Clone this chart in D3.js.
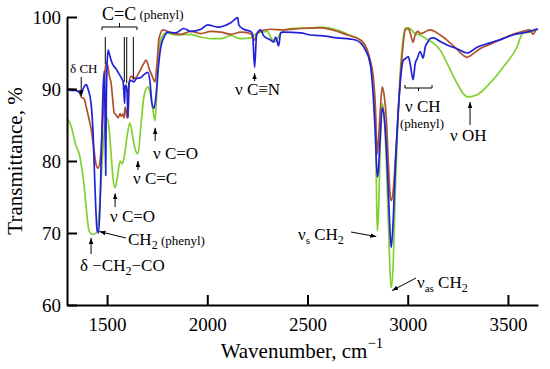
<!DOCTYPE html>
<html>
<head>
<meta charset="utf-8">
<script src="https://cdn.jsdelivr.net/npm/d3@7"></script>
<style>
    body { margin: 0; background: #fff; }
    svg, svg text { font-family: "Liberation Serif", "Times New Roman", serif; }
    .line { fill: none; stroke-width: 1.7; stroke-linejoin: round; }
    .ann line, .ann path.br { stroke: #000; stroke-width: 1; fill: none; }
</style>
</head>
<body>
<div id="chart"></div>
<script>

var xTicks = [1500, 2000, 2500, 3000, 3500];
var yTicks = [60, 70, 80, 90, 100];

// [wavenumber, transmittance %]
var redSeries = [
    [1300, 90.0], [1321, 90.0], [1346, 89.8], [1361, 89.6], [1371, 88.9], [1386, 88.6],
    [1396, 87.5], [1410, 85.8], [1420, 84.5], [1435, 81.5], [1445, 79.5], [1455, 79.0],
    [1465, 80.0], [1475, 83.5], [1485, 89.5], [1490, 92.5], [1495, 93.6], [1505, 93.0],
    [1510, 92.0], [1520, 90.8], [1530, 88.0], [1535, 86.7], [1545, 86.4], [1555, 86.0],
    [1565, 86.6], [1570, 86.2], [1580, 86.5], [1585, 86.0], [1590, 87.5], [1595, 87.0],
    [1600, 86.0], [1604, 86.2], [1609, 90.5], [1619, 91.8], [1634, 91.5], [1644, 91.6],
    [1669, 92.8], [1684, 93.6], [1694, 94.0], [1704, 93.4], [1709, 92.9], [1719, 92.2],
    [1729, 91.5], [1739, 91.0], [1749, 93.5], [1759, 97.0], [1779, 98.2], [1818, 97.8],
    [1868, 97.6], [1918, 98.0], [1968, 97.7], [2017, 98.0], [2067, 97.9], [2117, 97.6],
    [2167, 97.9], [2216, 97.7], [2236, 96.8], [2251, 97.9], [2316, 98.3], [2381, 98.2],
    [2465, 98.4], [2565, 98.5], [2649, 98.0], [2699, 97.5], [2764, 96.8], [2798, 95.4],
    [2813, 94.0], [2828, 91.7], [2838, 88.0], [2848, 81.0], [2853, 82.5], [2863, 87.0],
    [2873, 90.3], [2883, 89.0], [2893, 86.0], [2903, 80.0], [2913, 75.0], [2918, 74.5],
    [2928, 76.0], [2938, 80.0], [2953, 87.0], [2963, 91.5], [2973, 95.0], [2988, 98.2],
    [3003, 98.4], [3012, 97.8], [3027, 96.5], [3037, 97.5], [3052, 98.0], [3062, 97.7],
    [3077, 97.8], [3097, 98.1], [3112, 98.2], [3162, 97.5], [3196, 96.8], [3246, 95.5],
    [3276, 94.7], [3296, 94.4], [3311, 94.6], [3361, 95.6], [3410, 96.2], [3475, 97.0],
    [3525, 97.6], [3575, 98.0], [3610, 98.2], [3625, 97.6], [3644, 98.3], [3650, 98.3]
];

var blueSeries = [
    [1300, 90.0], [1321, 89.8], [1346, 89.8], [1361, 89.5], [1371, 89.3], [1380, 90.0],
    [1396, 90.6], [1405, 90.0], [1420, 88.0], [1430, 84.0], [1440, 76.0], [1450, 70.5],
    [1458, 70.0], [1465, 74.0], [1472, 82.0], [1480, 90.0], [1486, 92.5], [1490, 86.0],
    [1493, 78.0], [1496, 88.0], [1500, 93.5], [1505, 95.4], [1510, 95.0], [1520, 94.0],
    [1530, 93.3], [1545, 92.8], [1555, 92.3], [1570, 91.6], [1580, 91.0], [1585, 89.0],
    [1588, 88.0], [1590, 90.5], [1595, 90.5], [1600, 89.5], [1604, 86.0], [1609, 90.8],
    [1619, 91.2], [1634, 91.0], [1644, 91.4], [1669, 91.6], [1684, 92.0], [1704, 92.3],
    [1714, 91.0], [1724, 88.0], [1734, 87.3], [1744, 89.0], [1754, 92.5], [1769, 96.0],
    [1784, 97.2], [1803, 97.9], [1843, 97.8], [1883, 98.4], [1918, 98.0], [1968, 98.3],
    [2002, 98.9], [2052, 98.6], [2117, 99.2], [2152, 99.9], [2157, 98.9], [2182, 98.3],
    [2216, 98.0], [2226, 97.6], [2236, 93.0], [2246, 97.5], [2266, 98.2], [2281, 97.4],
    [2316, 96.8], [2331, 96.5], [2341, 97.2], [2356, 96.0], [2366, 97.8], [2381, 97.9],
    [2465, 97.8], [2515, 97.5], [2565, 97.4], [2649, 97.1], [2739, 96.8], [2789, 95.4],
    [2813, 93.5], [2828, 89.0], [2838, 84.0], [2848, 77.8], [2853, 78.5], [2863, 83.5],
    [2873, 87.4], [2883, 86.0], [2893, 82.0], [2903, 76.0], [2913, 69.5], [2918, 68.0],
    [2928, 72.0], [2938, 79.0], [2953, 87.0], [2963, 91.0], [2978, 94.0], [2988, 94.2],
    [3003, 94.5], [3012, 93.5], [3027, 91.3], [3037, 93.5], [3047, 94.2], [3062, 95.2],
    [3077, 94.3], [3087, 95.8], [3102, 96.6], [3112, 97.0], [3127, 97.1], [3162, 96.6],
    [3196, 96.1], [3246, 95.6], [3296, 95.0], [3346, 95.8], [3410, 96.4], [3475, 97.0],
    [3525, 97.5], [3575, 97.8], [3610, 98.0], [3644, 98.3], [3650, 98.3]
];

var greenSeries = [
    [1300, 86.0], [1321, 84.8], [1346, 82.0], [1361, 81.0], [1371, 79.5], [1386, 76.5],
    [1396, 73.5], [1410, 70.3], [1430, 69.8], [1445, 70.0], [1460, 72.8], [1470, 77.0],
    [1480, 82.0], [1490, 85.0], [1500, 86.0], [1510, 84.5], [1520, 81.0], [1530, 77.5],
    [1540, 76.3], [1550, 77.5], [1565, 80.0], [1575, 79.6], [1585, 80.5], [1600, 83.5],
    [1614, 85.3], [1630, 83.0], [1644, 81.3], [1654, 81.0], [1669, 85.0], [1684, 89.0],
    [1704, 90.3], [1714, 89.5], [1729, 87.0], [1739, 85.6], [1749, 90.0], [1759, 95.0],
    [1769, 97.0], [1794, 97.8], [1843, 97.5], [1918, 97.6], [1968, 97.2], [2017, 97.0],
    [2067, 97.0], [2117, 97.4], [2167, 97.0], [2216, 97.1], [2246, 97.7], [2300, 98.0],
    [2316, 97.2], [2341, 96.6], [2366, 97.8], [2415, 98.4], [2515, 98.5], [2565, 98.6],
    [2649, 98.2], [2699, 97.6], [2764, 96.8], [2798, 95.4], [2813, 93.5], [2828, 90.5],
    [2838, 86.0], [2843, 78.0], [2848, 70.3], [2853, 72.0], [2863, 82.0], [2873, 88.0],
    [2883, 86.0], [2893, 80.0], [2903, 72.0], [2913, 64.0], [2918, 62.4], [2928, 66.0],
    [2938, 76.0], [2953, 87.0], [2963, 92.5], [2973, 96.0], [2988, 98.5], [3003, 98.5],
    [3037, 97.7], [3062, 97.5], [3102, 96.8], [3127, 96.4], [3162, 95.4], [3196, 93.6],
    [3246, 90.8], [3276, 89.4], [3301, 88.9], [3346, 89.2], [3410, 90.8], [3475, 93.0],
    [3545, 95.8], [3575, 97.8], [3610, 97.9], [3650, 98.3]
];

var W = 550, H = 369;
var margin = {top: 17, right: 12, bottom: 64, left: 67}
    , width = W - margin.left - margin.right
    , height = H - margin.top - margin.bottom;

var FONT = "Liberation Serif, Times New Roman, serif";

var svg = d3.select("#chart")
    .append("svg")
    .attr("width", W)
    .attr("height", H)
    .attr("font-family", FONT);

var g = svg.append("g")
    .attr("transform", "translate(" + margin.left + "," + margin.top + ")");

var x = d3.scaleLinear().domain([1300, 3650]).range([0, width]);
var y = d3.scaleLinear().domain([60, 100]).range([height, 0]);

// page coords of a data point, for the annotations
function X(wn) { return margin.left + x(wn); }
function Y(t) { return margin.top + y(t); }

var line_gen = d3.line()
    .x(d => x(d[0]))
    .y(d => y(d[1]))
    .curve(d3.curveMonotoneX);

[[greenSeries, "#7fd12e"], [redSeries, "#b0512d"], [blueSeries, "#2121dc"]].forEach(function(s) {
    g.append("path")
        .attr("class", "line")
        .attr("stroke", s[1])
        .attr("d", line_gen(s[0]));
});

var xAxis = d3.axisBottom(x)
    .tickValues(xTicks)
    .tickFormat(d3.format("d"))
    .tickSizeInner(-10)
    .tickSizeOuter(0)
    .tickPadding(13);

var yAxis = d3.axisLeft(y)
    .tickValues(yTicks)
    .tickFormat(d3.format("d"))
    .tickSizeInner(-10)
    .tickSizeOuter(0)
    .tickPadding(6);

var gx = g.append("g")
    .attr("transform", "translate(0," + height + ")")
    .call(xAxis);

var gy = g.append("g").call(yAxis);

[gx, gy].forEach(function(a) {
    a.attr("font-family", FONT).attr("font-size", null);
    a.select(".domain").attr("stroke-width", 2);
    a.selectAll(".tick line").attr("stroke-width", 2);
    a.selectAll(".tick text").style("font-size", "19px").attr("fill", "#000");
});

// axis titles
svg.append("text")
    .attr("transform", "translate(22," + (margin.top + height / 2) + ") rotate(-90)")
    .attr("text-anchor", "middle")
    .style("font-size", "21px")
    .text("Transmittance, %");

var xt = svg.append("text")
    .attr("x", 302)
    .attr("y", 358)
    .attr("text-anchor", "middle")
    .style("font-size", "21px");
xt.append("tspan").text("Wavenumber, cm");
xt.append("tspan").attr("dy", -10).style("font-size", "15px").text("\u22121");

// annotations
var defs = svg.append("defs");
defs.append("marker")
    .attr("id", "head")
    .attr("viewBox", "0 0 8 8")
    .attr("refX", 8).attr("refY", 4)
    .attr("markerWidth", 6).attr("markerHeight", 6)
    .attr("orient", "auto")
    .append("path").attr("d", "M0,1L8,4L0,7Z").attr("fill", "#000");

var ann = svg.append("g").attr("class", "ann").attr("font-family", FONT);

function arrow(x1, y1, x2, y2) {
    ann.append("line")
        .attr("x1", x1).attr("y1", y1)
        .attr("x2", x2).attr("y2", y2)
        .attr("marker-end", "url(#head)");
}

function label(px, py, parts) {
    var t = ann.append("text").attr("x", px).attr("y", py).attr("font-family", FONT);
    parts.forEach(function(p) {
        var s = t.append("tspan").text(p[0]).style("font-size", (p[1] || 17) + "px");
        if (p[2]) s.attr("dy", p[2]);
    });
    return t;
}

// δ CH
label(70, 73, [["\u03b4 CH", 13]]);
arrow(X(1371), 77, X(1371), Y(89.0));

// C=C (phenyl) bracket and lines
label(102, 20, [["C=C", 18], [" (phenyl)", 13, -1]]);
ann.append("path").attr("class", "br")
    .attr("d", "M102,30V27H137V30M119.5,27V23");
[[1491, 93.5], [1586, 91.0], [1598, 90.8], [1631, 91.3]].forEach(function(p) {
    ann.append("line")
        .attr("x1", X(p[0])).attr("y1", 37)
        .attr("x2", X(p[0])).attr("y2", Y(p[1]));
});

// ν C=O (upper)
arrow(X(1740), 141, X(1740), Y(84.6));
label(153, 159, [["\u03bd C=O"]]);

// ν C=C
arrow(X(1654), 170, X(1654), Y(80.0));
label(133, 184, [["\u03bd C=C"]]);

// ν C=O (lower)
arrow(X(1540), 207, X(1540), Y(75.5));
label(110, 222, [["\u03bd C=O"]]);

// CH2 (phenyl)
arrow(126, 238, X(1462), Y(70.2));
label(128, 245, [["CH"], ["2", 12, 4], [" (phenyl)", 13, -4]]);

// δ −CH2−CO
arrow(X(1420), 254, X(1420), Y(69.3));
label(80, 271, [["\u03b4 \u2212CH"], ["2", 12, 4], ["\u2212CO", 17, -4]]);

// ν C≡N
arrow(X(2236), 81, X(2236), Y(92.2));
label(235, 95, [["\u03bd C\u2261N"]]);

// νs CH2
arrow(351, 232, X(2843), Y(69.5));
label(298, 240, [["\u03bd"], ["s", 11, 4], [" CH", 17, -4], ["2", 12, 4]]);

// νas CH2
arrow(416, 278, X(2922), Y(62.0));
label(417, 288, [["\u03bd"], ["as", 11, 4], [" CH", 17, -4], ["2", 12, 4]]);

// ν CH (phenyl) bracket
ann.append("path").attr("class", "br")
    .attr("d", "M405,85V88H432V85M418.5,88V91");
label(405, 112, [["\u03bd CH"]]);
label(400, 128, [["(phenyl)", 13]]);

// ν OH
arrow(X(3311), 125, X(3311), Y(88.2));
label(450, 141, [["\u03bd OH"]]);

</script>
</body>
</html>
